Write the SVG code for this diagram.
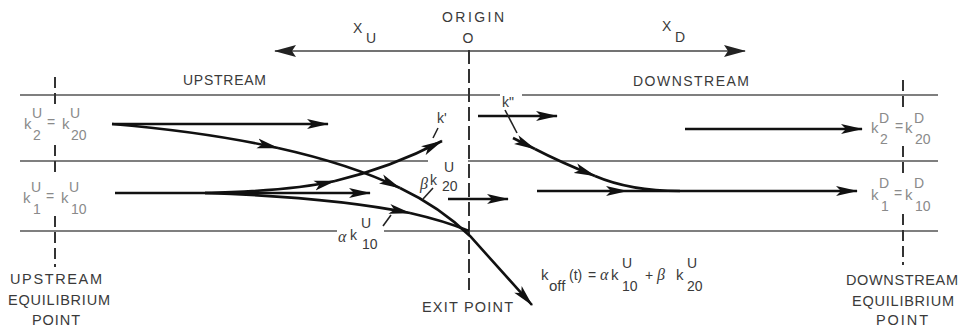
<svg xmlns="http://www.w3.org/2000/svg" width="962" height="328" viewBox="0 0 962 328">
<style>
.lane{stroke:#555;stroke-width:1.5;fill:none}
.dash{stroke:#333;stroke-width:2;fill:none;stroke-dasharray:11,5}
.cdash{stroke:#333;stroke-width:2;fill:none;stroke-dasharray:14,5}
.arr{stroke:#111;stroke-width:2.6;fill:none;marker-end:url(#ah)}
.seg{stroke:#111;stroke-width:2.6;fill:none}
.tick{stroke:#222;stroke-width:1.6;fill:none}
.axis{stroke:#444;stroke-width:1.5;fill:none}
text{font-family:"Liberation Sans",Arial,sans-serif;fill:#3a3a3a}
.lab{font-size:14px}
.big{font-size:14.5px}
.gk{fill:#8a8a8a}
.k{font-size:15px}
.s{font-size:14px}
.gr{font-family:"Liberation Serif","Times New Roman",serif;font-style:italic;font-size:16px}
</style>
<defs>
<marker id="ah" markerUnits="userSpaceOnUse" viewBox="0 0 22 11" markerWidth="22" markerHeight="11" refX="21" refY="5.5" orient="auto">
<path d="M0,0.5 L22,5.5 L0,10.5 L5,5.5 z" fill="#111"/>
</marker>
<marker id="ax" markerUnits="userSpaceOnUse" viewBox="0 0 22 13" markerWidth="22" markerHeight="13" refX="21" refY="6.5" orient="auto-start-reverse">
<path d="M0,0.5 L22,6.5 L0,12.5 L4,6.5 z" fill="#222"/>
</marker>
</defs>

<g id="axis">
<path class="axis" d="M275,51 L745,51" marker-start="url(#ax)" marker-end="url(#ax)"/>
<text class="lab" x="473" y="22" text-anchor="middle" textLength="62" lengthAdjust="spacing">ORIGIN</text>
<text class="lab" x="468" y="43" text-anchor="middle">O</text>
<text class="lab" x="353" y="33">X</text>
<text class="s" x="366" y="43">U</text>
<text class="lab" x="662" y="31">X</text>
<text class="s" x="675" y="42">D</text>
</g>

<g id="lanes">
<path class="lane" d="M20,95 L500,95 M522,95 L938,95"/>
<path class="lane" d="M20,161 L428,161 M468,161 L938,161"/>
<path class="lane" d="M20,231 L337,231 M384,231 L938,231"/>
<text class="lab" x="183" y="85" textLength="83" lengthAdjust="spacing">UPSTREAM</text>
<text class="lab" x="633" y="86" textLength="116" lengthAdjust="spacing">DOWNSTREAM</text>
</g>

<g id="upstream-point">
<path class="dash" d="M55,77 L55,104 M55,145 L55,176 M55,216 L55,267"/>
<text class="big" x="56" y="284" text-anchor="middle" textLength="92" lengthAdjust="spacing">UPSTREAM</text>
<text class="big" x="59" y="305" text-anchor="middle" textLength="102" lengthAdjust="spacing">EQUILIBRIUM</text>
<text class="big" x="56" y="325" text-anchor="middle" textLength="48" lengthAdjust="spacing">POINT</text>
</g>

<g id="downstream-point">
<path class="dash" d="M903,80 L903,110 M903,146 L903,176 M903,214 L903,265"/>
<text class="big" x="902" y="285" text-anchor="middle" textLength="112" lengthAdjust="spacing">DOWNSTREAM</text>
<text class="big" x="903" y="306" text-anchor="middle" textLength="102" lengthAdjust="spacing">EQUILIBRIUM</text>
<text class="big" x="902" y="325" text-anchor="middle" textLength="52" lengthAdjust="spacing">POINT</text>
</g>

<g id="exit-point">
<path class="cdash" d="M469,50 L469,290"/>
<text class="big" x="422" y="312" textLength="91" lengthAdjust="spacing">EXIT POINT</text>
</g>

<g id="label-k2U">
<text class="k gk" x="24" y="129">k</text>
<text class="s gk" x="32" y="118">U</text>
<text class="s gk" x="33" y="140">2</text>
<text class="s gk" x="47" y="127">=</text>
<text class="k gk" x="62" y="129">k</text>
<text class="s gk" x="70" y="118">U</text>
<text class="s gk" x="71" y="140">20</text>
</g>

<g id="label-k1U">
<text class="k gk" x="23" y="203">k</text>
<text class="s gk" x="31" y="192">U</text>
<text class="s gk" x="33" y="214">1</text>
<text class="s gk" x="46" y="201">=</text>
<text class="k gk" x="61" y="203">k</text>
<text class="s gk" x="69" y="192">U</text>
<text class="s gk" x="71" y="214">10</text>
</g>

<g id="label-k2D">
<text class="k gk" x="871" y="133">k</text>
<text class="s gk" x="879" y="123">D</text>
<text class="s gk" x="880" y="144">2</text>
<text class="s gk" x="895" y="131">=</text>
<text class="k gk" x="905" y="133">k</text>
<text class="s gk" x="914" y="123">D</text>
<text class="s gk" x="915" y="144">20</text>
</g>

<g id="label-k1D">
<text class="k gk" x="871" y="200">k</text>
<text class="s gk" x="879" y="188">D</text>
<text class="s gk" x="881" y="211">1</text>
<text class="s gk" x="894" y="198">=</text>
<text class="k gk" x="905" y="200">k</text>
<text class="s gk" x="914" y="188">D</text>
<text class="s gk" x="915" y="211">10</text>
</g>

<g id="label-kprime">
<text class="s" x="437" y="123" fill="#555">k'</text>
</g>
<g id="label-kdprime">
<text class="s" x="502" y="107" fill="#555">k"</text>
</g>
<g id="label-beta">
<text class="gr" x="420" y="189">β</text>
<text class="s" x="430" y="185">k</text>
<text class="s" x="444" y="172">U</text>
<text class="s" x="442" y="191">20</text>
</g>
<g id="label-alpha">
<text class="gr" x="338" y="242">α</text>
<text class="s" x="350" y="240">k</text>
<text class="s" x="361" y="228">U</text>
<text class="s" x="362" y="249">10</text>
</g>

<g id="formula">
<text class="k" x="541" y="280">k</text>
<text class="k" x="549" y="291">off</text>
<text class="lab" x="569" y="280">(t)</text>
<text class="lab" x="588" y="280">=</text>
<text class="gr" x="600" y="280">α</text>
<text class="k" x="611" y="280">k</text>
<text class="s" x="622" y="268">U</text>
<text class="s" x="622" y="291">10</text>
<text class="lab" x="645" y="280">+</text>
<text class="gr" x="657" y="280">β</text>
<text class="k" x="676" y="280">k</text>
<text class="s" x="687" y="268">U</text>
<text class="s" x="687" y="291">20</text>
</g>

<g id="connectors">
<path class="arr" d="M112,124 L328,124"/>
<path class="arr" d="M112,124 Q206,132 278,148"/>
<path class="arr" d="M278,148 Q350,164 400,188"/>
<path class="arr" d="M400,188 Q440,207 470,236 L532,305"/>
<path class="arr" d="M115,193 L370,193"/>
<path class="arr" d="M205,193 Q290,191 335,181"/>
<path class="arr" d="M335,181 Q390,168 442,141"/>
<path class="arr" d="M205,193 Q330,197 410,213"/>
<path class="seg" d="M410,213 Q445,221 469,231"/>
<path class="arr" d="M478,116 L557,116"/>
<path class="arr" d="M685,129 L862,129"/>
<path class="arr" d="M448,199 L508,199"/>
<path class="arr" d="M537,191 L627,191"/>
<path class="arr" d="M627,191 L857,191"/>
<path class="arr" d="M513,138 L535,149"/>
<path class="arr" d="M535,149 Q560,162 595,176"/>
<path class="seg" d="M595,176 Q630,191 680,191"/>
<path class="tick" d="M438,128 L433,138"/>
<path class="tick" d="M505,110 L517,133"/>
<path class="tick" d="M433,188 L423,199"/>
<path class="tick" d="M383,226 L391,215"/>
</g>
</svg>
